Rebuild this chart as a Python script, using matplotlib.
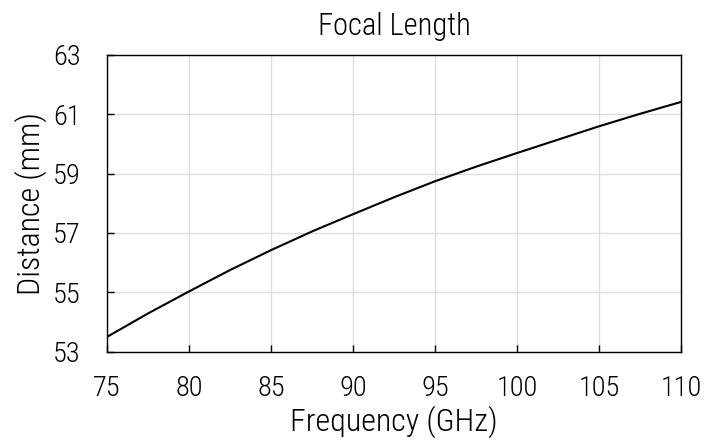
import matplotlib
matplotlib.use('Agg')
from matplotlib import pyplot as plt

# frequency (GHz) and focal distance (mm)
freq = [75, 77.5, 80, 82.5, 85, 87.5, 90, 92.5, 95, 97.5, 100, 102.5, 105, 107.5, 110]
dist = [53.50, 54.29, 55.03, 55.75, 56.42, 57.05, 57.63, 58.20, 58.74,
        59.23, 59.69, 60.14, 60.59, 61.01, 61.41]

xticks = [75, 80, 85, 90, 95, 100, 105, 110]
yticks = [53, 55, 57, 59, 61, 63]

plt.rcParams['font.family'] = ['Roboto Condensed', 'DejaVu Sans']
plt.rcParams['font.weight'] = 'light'
plt.rcParams['axes.titleweight'] = 'light'
plt.rcParams['axes.labelweight'] = 'light'

fig = plt.figure(figsize=(7.06, 4.43), dpi=100)
ax = fig.add_axes([0.1516, 0.206, 0.813, 0.6705])

ax.plot(freq, dist, color='black', linewidth=1.5)

ax.set_xlim(75, 110)
ax.set_ylim(53, 63)
ax.set_xticks(xticks)
ax.set_yticks(yticks)
ax.grid(True, color='#dddddd', linewidth=1.0)
ax.set_axisbelow(True)

ax.tick_params(direction='in', length=5, width=1, labelsize=20.5,
               top=False, right=False)
ax.tick_params(axis='x', pad=17)
ax.tick_params(axis='y', pad=19)
for s in ax.spines.values():
    s.set_color('black')
    s.set_linewidth(1.0)

ax.set_title('Focal Length', fontsize=22, pad=14)
ax.set_xlabel('Frequency (GHz)', fontsize=23, labelpad=2)
ax.set_ylabel('Distance (mm)', fontsize=23, labelpad=4)

fig.savefig('out.png', dpi=100)
